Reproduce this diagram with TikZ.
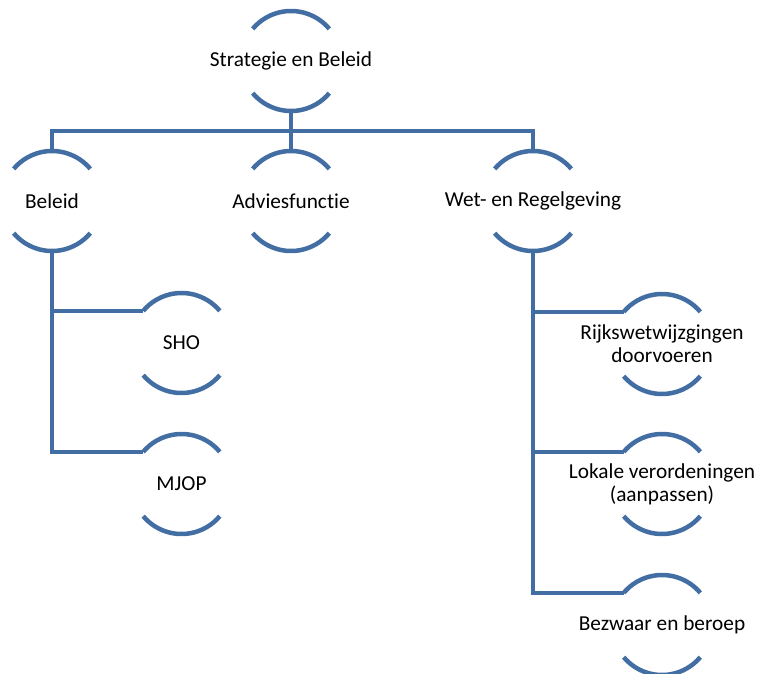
\documentclass[tikz,border=0pt]{standalone}
\usepackage{fontspec}
\setmainfont{Carlito}[Ligatures={NoCommon}]
\definecolor{arcblue}{RGB}{66,110,164}
\begin{document}
\begin{tikzpicture}[x=1pt,y=1pt,
  box/.style={shape=rectangle,draw=none,minimum width=100pt,minimum height=100pt,inner sep=0pt,align=center,
    font=\fontsize{21.3}{23}\selectfont,text=black},
  arcline/.style={draw=arcblue,line width=4.5pt},
  conn/.style={draw=arcblue,line width=4.5pt}]
\useasboundingbox (0,0) rectangle (757,-674);
\node[box] (top) at (291,-61) {Strategie en Beleid};
\node[box] (beleid) at (52,-201) {Beleid};
\node[box] (advies) at (291,-201) {Adviesfunctie};
\node[box] (wet) at (533,-201) {Wet- en Regelgeving};
\node[box] (sho) at (181.5,-343) {SHO};
\node[box] (mjop) at (181.5,-484) {MJOP};
\node[box] (rijks) at (662,-344) {Rijkswetwijzgingen\\doorvoeren};
\node[box] (lokale) at (662,-484) {Lokale verordeningen\\(aanpassen)};
\node[box] (bezwaar) at (662,-625) {Bezwaar en beroep};
\foreach \n in {top,beleid,advies,wet,sho,mjop,rijks,lokale,bezwaar}{
  \draw[arcline] ([shift={(40:50)}]\n.center) arc[start angle=40,end angle=140,radius=50];
  \draw[arcline] ([shift={(220:50)}]\n.center) arc[start angle=220,end angle=320,radius=50];
}
\coordinate (bus) at (291,-131);
\draw[conn] (top.south) -- (bus);
\draw[conn] (beleid.north) |- (bus) -| (wet.north);
\draw[conn] (advies.north) -- (advies.north |- bus);
\draw[conn] (beleid.south) |- ([shift={(140:50)}]sho.center);
\draw[conn] (beleid.south) |- ([shift={(140:50)}]mjop.center);
\draw[conn] (wet.south) |- ([shift={(140:50)}]rijks.center);
\draw[conn] (wet.south) |- ([shift={(140:50)}]lokale.center);
\draw[conn] (wet.south) |- ([shift={(140:50)}]bezwaar.center);
\end{tikzpicture}
\end{document}
